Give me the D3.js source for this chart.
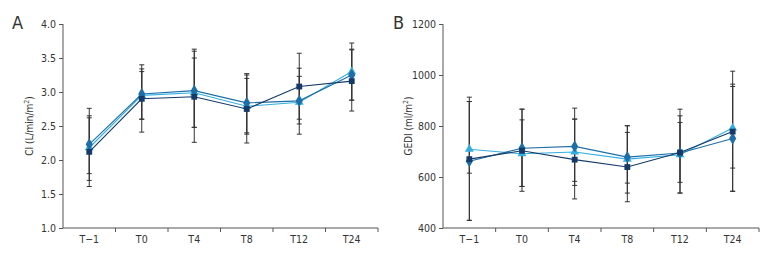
<!DOCTYPE html>
<html>
<head>
<meta charset="utf-8">
<script src="https://cdn.jsdelivr.net/npm/d3@7"></script>
<style>
body { margin: 0; background: #fff; }
svg text { font-family: "DejaVu Sans Condensed", "Liberation Sans Narrow", sans-serif; font-stretch: condensed; fill: #333; }
</style>
</head>
<body>
<div id="chart"></div>
<script>
// time points
var timePoints = ["T\u22121", "T0", "T4", "T8", "T12", "T24"];

// panel A: CI
var ciTicks = [1.0, 1.5, 2.0, 2.5, 3.0, 3.5, 4.0];
var ciDark = [2.12, 2.90, 2.93, 2.75, 3.08, 3.16];
var ciDarkLo = [1.61, 2.41, 2.26, 2.25, 2.60, 2.72];
var ciDarkHi = [2.65, 3.40, 3.60, 3.25, 3.57, 3.63];
var ciMid = [2.23, 2.97, 3.02, 2.84, 2.87, 3.25];
var ciMidLo = [1.70, 2.60, 2.48, 2.40, 2.38, 2.88];
var ciMidHi = [2.76, 3.34, 3.63, 3.27, 3.35, 3.62];
var ciLight = [2.18, 2.95, 2.99, 2.79, 2.85, 3.30];
var ciLightLo = [1.80, 2.60, 2.48, 2.38, 2.53, 2.88];
var ciLightHi = [2.62, 3.30, 3.50, 3.20, 3.23, 3.72];

// panel B: GEDI
var gediTicks = [400, 600, 800, 1000, 1200];
var gediDark = [670, 703, 668, 639, 696, 778];
var gediDarkLo = [430, 544, 514, 503, 537, 544];
var gediDarkHi = [913, 866, 827, 775, 866, 1015];
var gediMid = [662, 713, 720, 678, 694, 751];
var gediMidLo = [430, 563, 567, 576, 537, 544];
var gediMidHi = [896, 866, 870, 801, 840, 964];
var gediLight = [709, 691, 698, 670, 687, 792];
var gediLightLo = [615, 563, 583, 537, 579, 635];
var gediLightHi = [896, 824, 827, 801, 814, 955];

var svg = d3.select("#chart").append("svg")
    .attr("width", 780)
    .attr("height", 264);

function panel(opt) {
    var x = d3.scaleBand().domain(timePoints).range([opt.left, opt.right]);
    var y = d3.scaleLinear().domain(opt.domain).range([228, 24]);
    var g = svg.append("g");

    // x axis line with ticks at band edges
    g.append("line")
        .attr("x1", opt.left).attr("x2", opt.right)
        .attr("y1", 228).attr("y2", 228)
        .attr("stroke", "#555").attr("stroke-width", 1);
    var edges = timePoints.map(function(d) { return x(d) + x.bandwidth(); });
    g.selectAll(".xt").data(edges).enter().append("line")
        .attr("x1", function(d) { return d; }).attr("x2", function(d) { return d; })
        .attr("y1", 228).attr("y2", 232)
        .attr("stroke", "#555");
    g.selectAll(".xl").data(timePoints).enter().append("text")
        .attr("x", function(d) { return x(d) + x.bandwidth() / 2; })
        .attr("y", 243)
        .attr("text-anchor", "middle")
        .attr("font-size", 10.5)
        .text(function(d) { return d; });

    // y axis
    var yAxis = d3.axisLeft(y).tickValues(opt.ticks).tickSize(4).tickFormat(opt.fmt);
    var ya = g.append("g").attr("transform", "translate(" + opt.left + ",0)").call(yAxis);
    ya.attr("font-family", null).attr("font-size", null);
    ya.select(".domain").attr("stroke", "#555").attr("d", "M0,228V24");
    ya.selectAll(".tick line").attr("stroke", "#555");
    ya.selectAll(".tick text").attr("font-size", 10.5).attr("fill", "#333");

    // axis title
    g.append("text")
        .attr("transform", "translate(" + opt.titleX + ",126) rotate(-90)")
        .attr("text-anchor", "middle")
        .attr("font-size", 10)
        .html(opt.title);

    // panel letter
    g.append("text")
        .attr("x", opt.letterX).attr("y", 29)
        .attr("font-size", 18)
        .attr("fill", "#111")
        .text(opt.letter);

    var cx = function(i) { return x(timePoints[i]) + x.bandwidth() / 2; };

    // error bars
    opt.series.forEach(function(s) {
        s.vals.forEach(function(v, i) {
            var eg = g.append("g").attr("stroke", "#333").attr("stroke-width", 1);
            eg.append("line").attr("x1", cx(i)).attr("x2", cx(i))
                .attr("y1", y(s.lo[i])).attr("y2", y(s.hi[i]));
            [s.lo[i], s.hi[i]].forEach(function(e) {
                eg.append("line").attr("x1", cx(i) - 2.5).attr("x2", cx(i) + 2.5)
                    .attr("y1", y(e)).attr("y2", y(e));
            });
        });
    });

    // lines and markers
    opt.series.forEach(function(s) {
        var line = d3.line().x(function(d, i) { return cx(i); }).y(function(d) { return y(d); });
        g.append("path").datum(s.vals)
            .attr("d", line)
            .attr("fill", "none")
            .attr("stroke", s.color)
            .attr("stroke-width", 1.1);
        g.selectAll(null).data(s.vals).enter().append("path")
            .attr("transform", function(d, i) { return "translate(" + cx(i) + "," + y(d) + ")"; })
            .attr("d", d3.symbol().type(s.symbol).size(s.size))
            .attr("fill", s.color);
    });
}

var colDark = "#163a68", colMid = "#1e6ea8", colLight = "#33aee0";

panel({
    left: 63, right: 378, domain: [1, 4], ticks: ciTicks,
    fmt: d3.format(".1f"),
    title: "CI (L/min/m<tspan font-size='7' dy='-4'>2</tspan><tspan dy='4'>)</tspan>",
    titleX: 33, letter: "A", letterX: 12,
    series: [
        { vals: ciLight, lo: ciLightLo, hi: ciLightHi, color: colLight, symbol: d3.symbolTriangle, size: 34 },
        { vals: ciMid, lo: ciMidLo, hi: ciMidHi, color: colMid, symbol: d3.symbolDiamond, size: 44 },
        { vals: ciDark, lo: ciDarkLo, hi: ciDarkHi, color: colDark, symbol: d3.symbolSquare, size: 34 }
    ]
});

panel({
    left: 443, right: 759, domain: [400, 1200], ticks: gediTicks,
    fmt: d3.format("d"),
    title: "GEDI (ml/m<tspan font-size='7' dy='-4'>2</tspan><tspan dy='4'>)</tspan>",
    titleX: 412, letter: "B", letterX: 393,
    series: [
        { vals: gediLight, lo: gediLightLo, hi: gediLightHi, color: colLight, symbol: d3.symbolTriangle, size: 34 },
        { vals: gediMid, lo: gediMidLo, hi: gediMidHi, color: colMid, symbol: d3.symbolDiamond, size: 44 },
        { vals: gediDark, lo: gediDarkLo, hi: gediDarkHi, color: colDark, symbol: d3.symbolSquare, size: 34 }
    ]
});
</script>
</body>
</html>
